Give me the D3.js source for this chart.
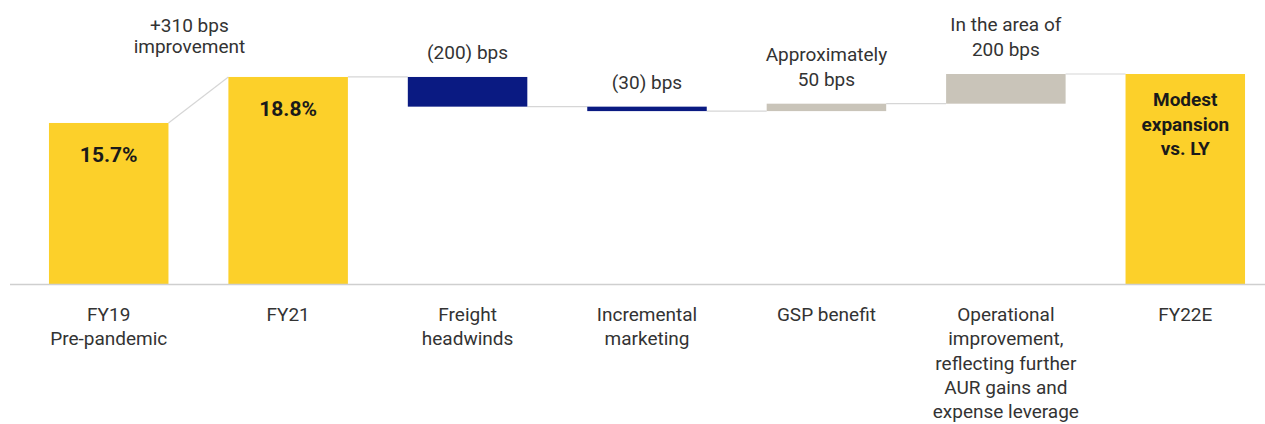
<html>
<meta charset="utf-8">

<head>
    <script src="https://d3js.org/d3.v7.min.js"></script>
    <style>
        body {
            margin: 0;
            background: #fff;
        }

        * {
            font-family: Roboto, "Liberation Sans", sans-serif;
        }

        .catLabel {
            font-size: 19px;
            fill: #333;
        }

        .deltaLabel {
            font-size: 19px;
            fill: #333;
        }

        .valueLabel {
            font-size: 21px;
            font-weight: bold;
            fill: #1a1a1a;
        }
    </style>
</head>

<svg id="waterfall" width="1265" height="424"></svg>

<script>
    // categories, as lines of the x label
    const categories = ["FY19", "FY21", "Freight", "Marketing", "GSP", "Operational", "FY22E"];
    const catLabels = [
        ["FY19", "Pre-pandemic"],
        ["FY21"],
        ["Freight", "headwinds"],
        ["Incremental", "marketing"],
        ["GSP benefit"],
        ["Operational", "improvement,", "reflecting further", "AUR gains and", "expense leverage"],
        ["FY22E"]
    ];
    // operating margin, % (totals) and change in % points (steps)
    const kinds = ["total", "total", "delta", "delta", "delta", "delta", "total"];
    const values = [15.7, 18.8, -2.0, -0.3, 0.5, 2.0, 19.0];
    const valueText = [["15.7%"], ["18.8%"], [], [], [], [], ["Modest", "expansion", "vs. LY"]];
    const deltaText = [[], [], ["(200) bps"], ["(30) bps"], ["Approximately", "50 bps"], ["In the area of", "200 bps"], []];
    const bridgeText = ["+310 bps", "improvement"];

    const svg = d3.select('svg#waterfall');
    const width = +svg.attr('width');
    const baseY = 284;

    // build start / end of each bar
    let running = 0;
    const bars = categories.map((c, i) => {
        let start, end;
        if (kinds[i] == "total") {
            start = null;
            end = values[i];
        } else {
            start = running;
            end = running + values[i];
        }
        const prevEnd = running;
        running = end;
        return { cat: c, i: i, kind: kinds[i], start: start, end: end, prevEnd: prevEnd, value: values[i] };
    });

    const xScale = d3.scaleBand().domain(categories)
        .range([19, 1275])
        .paddingInner(0.334)
        .paddingOuter(0.167);

    const yScale = d3.scaleLinear().domain([4.85, 19.0]).range([baseY, 74]);
    const yBottom = yScale.domain()[0];

    const colorFor = d => d.kind == "total" ? "#fcd02a" : (d.value < 0 ? "#0a1a82" : "#c9c4b9");

    // connectors
    const conn = svg.append("g").attr("id", "connectors");
    bars.slice(1).forEach(d => {
        const prev = bars[d.i - 1];
        conn.append("line")
            .attr("x1", xScale(prev.cat) + xScale.bandwidth())
            .attr("y1", yScale(prev.end))
            .attr("x2", xScale(d.cat))
            .attr("y2", yScale(d.kind == "total" ? d.end : d.prevEnd))
            .attr("stroke", "#d6d6d6")
            .attr("stroke-width", 1.2);
    });

    // bars
    svg.append("g").attr("id", "bars")
        .selectAll("rect").data(bars).join("rect")
        .attr("x", d => xScale(d.cat))
        .attr("width", xScale.bandwidth())
        .attr("y", d => d.kind == "total" ? yScale(d.end) : yScale(Math.max(d.start, d.end)))
        .attr("height", d => d.kind == "total"
            ? yScale(yBottom) - yScale(d.end)
            : Math.abs(yScale(d.start) - yScale(d.end)))
        .attr("fill", colorFor);

    // baseline axis
    svg.append("line")
        .attr("x1", 10).attr("x2", width)
        .attr("y1", baseY + 0.5).attr("y2", baseY + 0.5)
        .attr("stroke", "#cfcfcf")
        .attr("stroke-width", 1.5);

    // category labels
    const labels = svg.append("g").attr("id", "catLabels");
    bars.forEach(d => {
        const t = labels.append("text").attr("class", "catLabel")
            .attr("text-anchor", "middle");
        catLabels[d.i].forEach((line, k) => {
            t.append("tspan")
                .attr("x", xScale(d.cat) + xScale.bandwidth() / 2)
                .attr("y", 321 + k * 24.3)
                .text(line);
        });
    });

    // values inside total bars
    bars.forEach(d => {
        const lines = valueText[d.i];
        if (!lines.length) return;
        const t = svg.append("text").attr("class", "valueLabel")
            .attr("text-anchor", "middle");
        const fs = lines.length > 1 ? 19 : 21;
        t.style("font-size", fs + "px");
        lines.forEach((line, k) => {
            t.append("tspan")
                .attr("x", xScale(d.cat) + xScale.bandwidth() / 2)
                .attr("y", yScale(d.end) + (lines.length > 1 ? 32 : 39) + k * 24.5)
                .text(line);
        });
    });

    // step labels above the bars
    bars.forEach(d => {
        const lines = deltaText[d.i];
        if (!lines.length) return;
        const top = yScale(Math.max(d.start, d.end));
        const t = svg.append("text").attr("class", "deltaLabel")
            .attr("text-anchor", "middle");
        lines.forEach((line, k) => {
            t.append("tspan")
                .attr("x", xScale(d.cat) + xScale.bandwidth() / 2)
                .attr("y", top - 18 - (lines.length - 1 - k) * 25)
                .text(line);
        });
    });

    // bridge label between FY19 and FY21
    const b = svg.append("text").attr("class", "deltaLabel")
        .attr("text-anchor", "middle");
    const bx = (xScale(categories[0]) + xScale.bandwidth() + xScale(categories[1])) / 2 - 9;
    bridgeText.forEach((line, k) => {
        b.append("tspan")
            .attr("x", bx)
            .attr("y", yScale(values[1]) - 45 + k * 21)
            .text(line);
    });
</script>

</html>
